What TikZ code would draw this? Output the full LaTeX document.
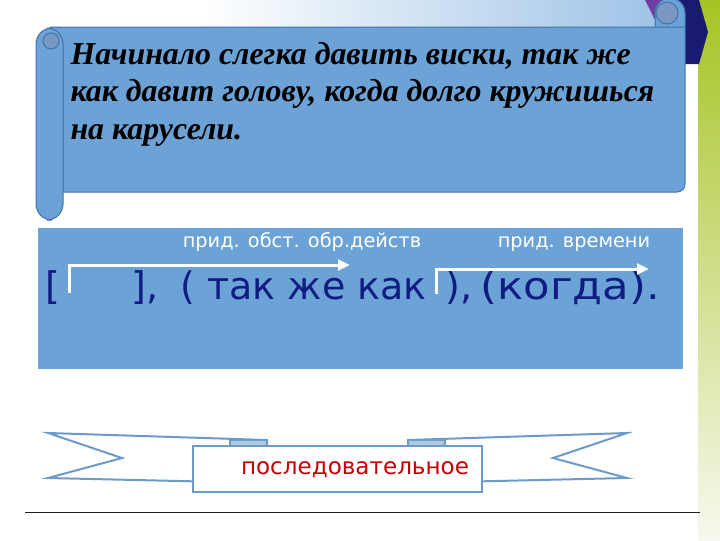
\documentclass[tikz,border=0pt]{standalone}
\usepackage{fontspec}
\setmainfont{Liberation Serif}
\newfontfamily\slidesans{DejaVu Sans}
\newfontfamily\slidewide{DejaVu Sans}[FakeStretch=1.14]
\usetikzlibrary{arrows.meta}

\tikzset{every picture/.style={line width=0.75pt}}
\tikzset{
  scrollpart/.style={draw={rgb, 255:red, 66; green, 114; blue, 170 }, fill={rgb, 255:red, 108; green, 162; blue, 214 }},
  curlend/.style={draw={rgb, 255:red, 66; green, 114; blue, 170 }, fill={rgb, 255:red, 120; green, 152; blue, 194 }},
  quoteline/.style={anchor=base west, inner sep=0pt, font=\fontsize{23.9}{28}\selectfont\bfseries\itshape},
  bigtext/.style={anchor=base west, inner sep=0pt, text={rgb, 255:red, 16; green, 28; blue, 130 }, font=\slidesans\fontsize{28.5}{33}\selectfont},
  clauselabel/.style={anchor=base, inner sep=0pt, text=white, font=\slidesans\fontsize{14.5}{17}\selectfont},
  whitearrow/.style={draw=white, line width=2.25pt, -{Triangle[length=9pt,width=8pt]}},
  ribbonpart/.style={draw={rgb, 255:red, 108; green, 155; blue, 202 }, line width=1.5pt, fill=white}
}

\begin{document}
\begin{tikzpicture}[x=0.75pt,y=0.75pt,yscale=-1,xscale=1]
\useasboundingbox (0,0) rectangle (720,540);
\fill[white] (0,0) rectangle (720,540);

%Shape: top band
\fill [left color=white, right color={rgb, 255:red, 150; green, 190; blue, 228 }] (200,0) rectangle (700,30) ;
%Shape: right strip
\fill [top color={rgb, 255:red, 166; green, 196; blue, 36 }, middle color={rgb, 255:red, 206; green, 220; blue, 130 }, bottom color={rgb, 255:red, 248; green, 248; blue, 238 }] (698,0) rectangle (720,540) ;
%Shape: corner purple
\fill [color={rgb, 255:red, 112; green, 62; blue, 160 }] (645,0) -- (690,0) -- (690,30) -- (660,30) -- cycle ;
%Shape: corner chevron
\fill [color={rgb, 255:red, 26; green, 26; blue, 112 }] (676,0) -- (699,0) -- (708,32) -- (699,64) -- (684,64) -- cycle ;

%Shape: scroll curl right
\draw [scrollpart] (655,27) -- (655,13) arc (180:360:15) -- (685,27) ;
\draw [curlend] (667,13) circle (11) ;
%Shape: scroll body
\draw [scrollpart] (50,27) -- (685,27) -- (685,184) arc (0:90:8) -- (50,192) -- cycle ;
%Shape: scroll roll left
\draw [scrollpart, rounded corners=12] (36,28) rectangle (63,220) ;
\draw [curlend] (51,41) circle (8) ;

% Text Node
\draw (70,64) node [quoteline] (quote1) {Начинало слегка давить виски, так же};
% Text Node
\draw (70,101.5) node [quoteline] (quote2) {как давит голову, когда долго кружишься};
% Text Node
\draw (70,139) node [quoteline] (quote3) {на карусели.};

%Shape: scheme box
\fill [color={rgb, 255:red, 108; green, 163; blue, 215 }] (38,228) rectangle (683,369) ;

% Text Node
\draw (302,247) node [clauselabel] (label1) {прид. обст. обр.действ};
% Text Node
\draw (574,247) node [clauselabel] (label2) {прид. времени};
% Text Node
\draw (45,299) node [bigtext] (main) {[};
% Text Node
\draw (131,299) node [bigtext] (close1) {],};
% Text Node
\draw (180,299) node [bigtext] (adv) {( так же как};
% Text Node
\draw (445,299) node [bigtext] (close2) {),};
% Text Node
\draw (480,299) node [bigtext, font=\slidewide\fontsize{28.5}{33}\selectfont] (when) {(когда).};

%Straight Lines
\coordinate (arr1s) at (69,293) ;
\coordinate (arr1e) at (350,265) ;
\coordinate (arr2s) at (436,294) ;
\coordinate (arr2e) at (649,269) ;
\draw [whitearrow] (arr1s) |- (arr1e) ;
\draw [whitearrow] (arr2s) |- (arr2e) ;

%Shape: ribbon tails
\draw [ribbonpart] (48,433) -- (267,440) -- (267,483) -- (48,478) -- (122,458) -- cycle ;
\draw [ribbonpart] (627,433) -- (408,440) -- (408,483) -- (627,478) -- (553,458) -- cycle ;
\draw [ribbonpart, fill={rgb, 255:red, 172; green, 202; blue, 228 }] (230,440) -- (267,440) -- (267,446) -- (230,446) -- cycle ;
\draw [ribbonpart, fill={rgb, 255:red, 172; green, 202; blue, 228 }] (408,440) -- (445,440) -- (445,446) -- (408,446) -- cycle ;
%Shape: ribbon panel
\draw [ribbonpart] (193,446) rectangle (482,492) ;
% Text Node
\draw (355,470) node [text={rgb, 255:red, 200; green, 0; blue, 0 }, font=\slidesans\fontsize{17.3}{20}\selectfont] (ribbontext) {последовательное};

%Straight Lines
\draw [color={rgb, 255:red, 30; green, 30; blue, 40 }] (25,512) -- (700,512) ;

\end{tikzpicture}
\end{document}
